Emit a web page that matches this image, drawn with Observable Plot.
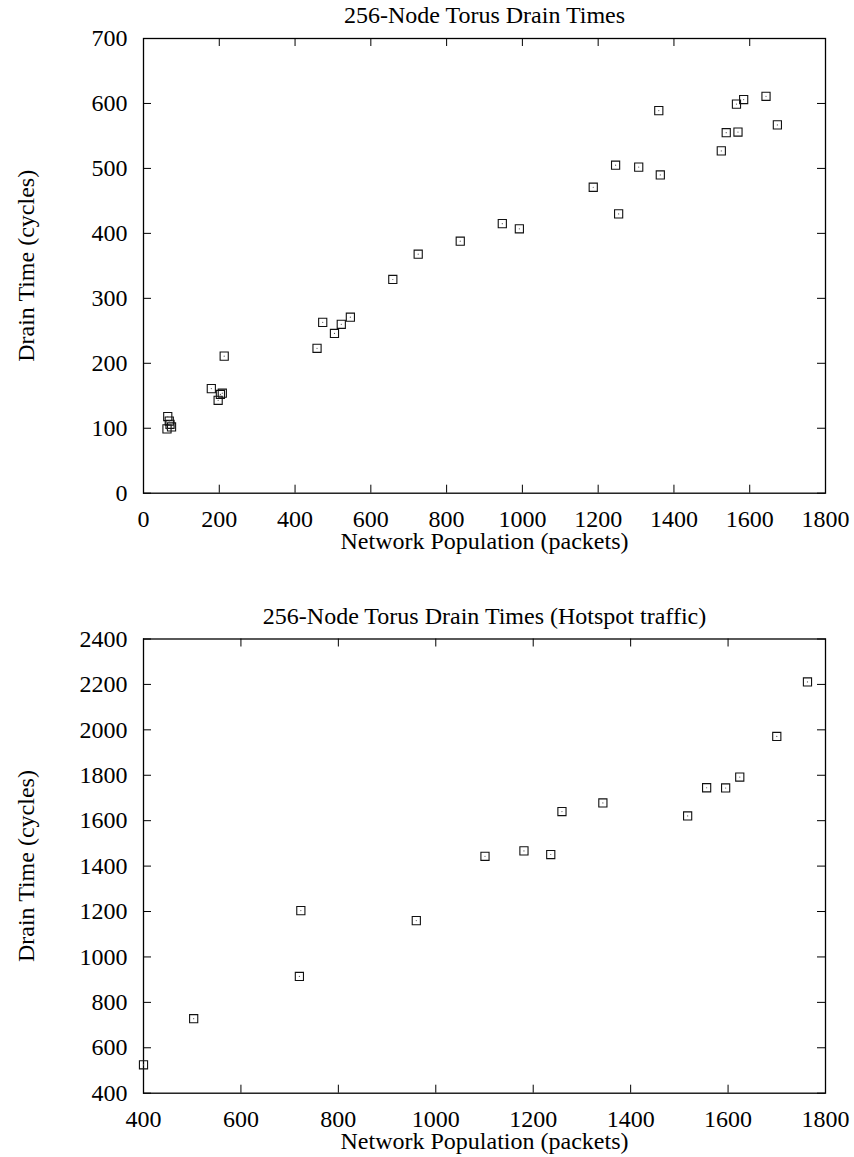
<!DOCTYPE html>
<html>
<head>
<meta charset="utf-8">
<script src="https://cdn.jsdelivr.net/npm/d3@7"></script>
<script src="https://cdn.jsdelivr.net/npm/@observablehq/plot@0.6"></script>
<style>
  html, body { margin: 0; padding: 0; background: #fff; }
  #chart svg { display: block; }
</style>
</head>
<body>
<div id="chart"></div>
<script>
// ---- Data ----
const uniformTitle = "256-Node Torus Drain Times";
const uniformX = [62, 64, 68, 70, 74, 179, 197, 203, 208, 213, 458, 473, 504, 522, 546, 658, 725, 836, 947, 992, 1187, 1246, 1254, 1307, 1360, 1364, 1525, 1538, 1569, 1565, 1584, 1643, 1673];
const uniformY = [99, 118, 111, 106, 102, 161, 143, 152, 154, 211, 223, 263, 246, 260, 271, 329, 368, 388, 415, 407, 471, 505, 430, 502, 589, 490, 527, 555, 556, 599, 606, 611, 567];
const uniformXTicks = [0, 200, 400, 600, 800, 1000, 1200, 1400, 1600, 1800];
const uniformYTicks = [0, 100, 200, 300, 400, 500, 600, 700];

const hotTitle = "256-Node Torus Drain Times (Hotspot traffic)";
const hotX = [400, 503, 720, 723, 960, 1101, 1181, 1236, 1259, 1343, 1517, 1556, 1595, 1624, 1700, 1763];
const hotY = [525, 728, 914, 1204, 1160, 1443, 1467, 1451, 1640, 1678, 1621, 1745, 1744, 1792, 1971, 2211];
const hotXTicks = [400, 600, 800, 1000, 1200, 1400, 1600, 1800];
const hotYTicks = [400, 600, 800, 1000, 1200, 1400, 1600, 1800, 2000, 2200, 2400];

const xLabel = "Network Population (packets)";
const yLabel = "Drain Time (cycles)";

const W = 854, ML = 143, MR = 29, TICK = 8;

function panel({title, xs, ys, xTicks, yTicks, height, marginTop, marginBottom, titleDy}) {
  const data = xs.map((x, i) => ({x, y: ys[i]}));
  const xDom = [xTicks[0], xTicks[xTicks.length - 1]];
  const yDom = [yTicks[0], yTicks[yTicks.length - 1]];
  const ph = height - marginTop - marginBottom;
  const pw = W - ML - MR;
  return Plot.plot({
    width: W,
    height,
    marginLeft: ML,
    marginRight: MR,
    marginTop,
    marginBottom,
    style: {fontFamily: "'Liberation Serif', 'Times New Roman', serif", fontSize: "24px", color: "black", background: "white"},
    x: {domain: xDom},
    y: {domain: yDom},
    marks: [
      // inward tick marks on all four sides
      Plot.ruleX(xTicks, {x: d => d, insetTop: ph - TICK, stroke: "black"}),
      Plot.ruleX(xTicks, {x: d => d, insetBottom: ph - TICK, stroke: "black"}),
      Plot.ruleY(yTicks, {y: d => d, insetRight: pw - TICK, stroke: "black"}),
      Plot.ruleY(yTicks, {y: d => d, insetLeft: pw - TICK, stroke: "black"}),
      Plot.frame({stroke: "black", strokeWidth: 1.3}),
      Plot.axisX({anchor: "bottom", ticks: xTicks, tickSize: 0, tickPadding: 16.5, tickFormat: d => String(d),
                  label: xLabel, labelAnchor: "center", labelOffset: 56, labelArrow: "none", fontVariant: "normal"}),
      Plot.axisY({anchor: "left", ticks: yTicks, tickSize: 0, tickPadding: 16, tickFormat: d => String(d),
                  label: yLabel, labelAnchor: "center", labelOffset: 127, labelArrow: "none", fontVariant: "normal"}),
      Plot.dot(data, {x: "x", y: "y", symbol: "square", r: 4.6, stroke: "#111", strokeWidth: 1.1, fill: "none"}),
      Plot.dot(data, {x: "x", y: "y", r: 0.6, fill: "#555"}),
      Plot.text([title], {frameAnchor: "top", lineAnchor: "bottom", dy: titleDy, fill: "black", fontSize: 24})
    ]
  });
}

const chart = document.getElementById("chart");
chart.append(panel({title: uniformTitle, xs: uniformX, ys: uniformY, xTicks: uniformXTicks, yTicks: uniformYTicks,
                    height: 580, marginTop: 38, marginBottom: 87.3, titleDy: -16}));
chart.append(panel({title: hotTitle, xs: hotX, ys: hotY, xTicks: hotXTicks, yTicks: hotYTicks,
                    height: 577, marginTop: 58.5, marginBottom: 64.3, titleDy: -15}));
</script>
</body>
</html>
